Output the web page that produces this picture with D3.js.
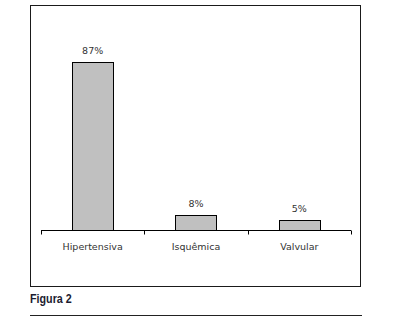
<!DOCTYPE html>
<html>
<head>
<meta charset="utf-8">
<script src="https://cdn.jsdelivr.net/npm/d3@7"></script>
<style>
  html, body { margin: 0; padding: 0; background: #fff; }
  svg { display: block; }
</style>
</head>
<body>
<svg id="chart" width="397" height="322"></svg>
<script>
// Distribution of heart-failure aetiology
const categories = ["Hipertensiva", "Isquêmica", "Valvular"];
const values = [87, 8, 5];
const valueLabels = ["87%", "8%", "5%"];
const caption = "Figura 2";

const svg = d3.select("#chart");

// outer frame of the chart
svg.append("rect")
  .attr("x", 30.5).attr("y", 5.5)
  .attr("width", 330).attr("height", 281)
  .attr("fill", "none").attr("stroke", "#1a1a1a").attr("stroke-width", 1);

const x = d3.scaleBand()
  .domain(categories)
  .range([41, 351])
  .paddingInner(0.6)
  .paddingOuter(0.3);

const y = d3.scaleLinear().domain([0, 100]).range([230, 37]);

const labelFont = "'DejaVu Sans', Verdana, sans-serif";

// bars
svg.selectAll("rect.bar")
  .data(values)
  .join("rect")
  .attr("class", "bar")
  .attr("x", (d, i) => Math.round(x(categories[i])) + 0.5)
  .attr("y", d => Math.round(y(d)) + 0.5)
  .attr("width", Math.round(x.bandwidth()))
  .attr("height", d => Math.round(y(0)) - Math.round(y(d)))
  .attr("fill", "#c0c0c0")
  .attr("stroke", "#000")
  .attr("stroke-width", 1);

// value labels above bars
svg.selectAll("text.val")
  .data(values)
  .join("text")
  .attr("class", "val")
  .attr("x", (d, i) => x(categories[i]) + x.bandwidth() / 2)
  .attr("y", d => y(d) - 8)
  .attr("text-anchor", "middle")
  .attr("font-family", labelFont)
  .attr("font-size", 9.5)
  .attr("fill", "#333")
  .text((d, i) => valueLabels[i]);

// category axis with boundary ticks
const axisG = svg.append("g").attr("transform", `translate(0,${Math.round(y(0)) + 0.5})`);
axisG.append("line")
  .attr("x1", 41).attr("x2", 351)
  .attr("stroke", "#000");
const step = (351 - 41) / categories.length;
axisG.selectAll("line.tick")
  .data(d3.range(categories.length + 1))
  .join("line")
  .attr("class", "tick")
  .attr("x1", i => Math.round(41 + i * step) + 0.5)
  .attr("x2", i => Math.round(41 + i * step) + 0.5)
  .attr("y1", 0).attr("y2", 4)
  .attr("stroke", "#000");
axisG.selectAll("text")
  .data(categories)
  .join("text")
  .attr("x", (d, i) => 41 + (i + 0.5) * step)
  .attr("y", 19)
  .attr("text-anchor", "middle")
  .attr("font-family", labelFont)
  .attr("font-size", 9.5)
  .attr("fill", "#333")
  .text(d => d);

// caption (condensed bold) and rule
svg.append("text")
  .attr("transform", "translate(30,303) scale(0.86,1)")
  .attr("font-family", "'Liberation Sans', Arial, sans-serif")
  .attr("font-weight", "bold")
  .attr("font-size", 12.5)
  .attr("fill", "#1c1c30")
  .text(caption);

svg.append("line")
  .attr("x1", 30).attr("x2", 362)
  .attr("y1", 315.5).attr("y2", 315.5)
  .attr("stroke", "#222").attr("stroke-width", 1);
</script>
</body>
</html>
